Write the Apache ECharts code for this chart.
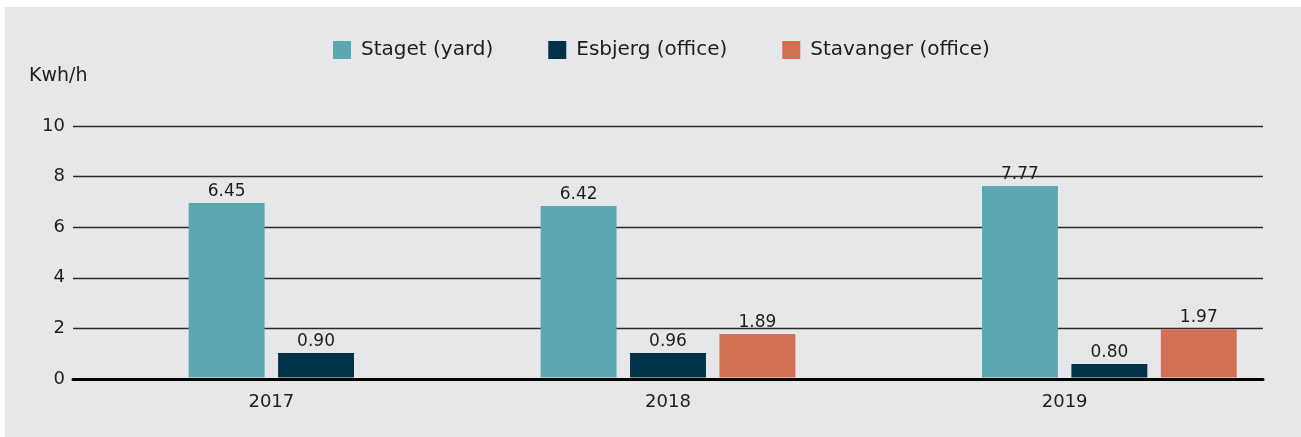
<!DOCTYPE html>
<html>
<head>
<meta charset="utf-8">
<script src="https://cdn.jsdelivr.net/npm/echarts@6/dist/echarts.min.js"></script>
<style>
  html, body { margin: 0; padding: 0; background: #fff; overflow: hidden; }
  #chart { position: absolute; left: 5px; top: 7px; width: 1296px; height: 440px; background: #e6e7e8; }
</style>
</head>
<body>
<div id="chart"></div>
<script>
var years = ['2017', '2018', '2019'];
// bar heights as drawn in the picture (kWh/h)
var stagetValues = [6.96, 6.84, 7.63];
var esbjergValues = [1.03, 1.03, 0.59];
var stavangerValues = [null, 1.78, 1.97];
// value labels printed above the bars
var stagetLabels = ['6.45', '6.42', '7.77'];
var esbjergLabels = ['0.90', '0.96', '0.80'];
var stavangerLabels = [null, '1.89', '1.97'];

var font = 'DejaVu Sans';
var textColor = '#1d1d1b';
var allValues = [stagetValues, esbjergValues, stavangerValues];
var allLabels = [stagetLabels, esbjergLabels, stavangerLabels];
// group shift per year, in bar steps (2019 group sits right of centre)
var groupShift = [0, 0, 0.5];

function makeData(values) {
  var out = [];
  for (var i = 0; i < values.length; i++) {
    if (values[i] == null) continue;
    out.push([i, values[i]]);
  }
  return out;
}

function renderBar(params, api) {
  var cat = api.value(0);
  var val = api.value(1);
  var band = api.size([1, 0])[0];
  var step = band * 0.2254;
  var barW = band * 0.1914;
  // slot of this series among non-empty bars of the year
  var n = 0, slot = 0;
  for (var s = 0; s < allValues.length; s++) {
    if (allValues[s][cat] == null) continue;
    if (s === params.seriesIndex) slot = n;
    n++;
  }
  var offset = (slot - (n - 1) / 2 + groupShift[cat]) * step;
  var base = api.coord([cat, 0]);
  var top = api.coord([cat, val]);
  var cx = base[0] + offset;
  return {
    type: 'group',
    children: [{
      type: 'rect',
      shape: { x: cx - barW / 2, y: top[1], width: barW, height: base[1] - top[1] - 1.5 },
      style: { fill: api.visual('color') }
    }, {
      type: 'text',
      style: {
        text: allLabels[params.seriesIndex][cat], x: cx, y: top[1] - 3,
        align: 'center', verticalAlign: 'bottom',
        fontSize: 17, fontFamily: font, fill: textColor
      }
    }]
  };
}

var myChart = echarts.init(document.getElementById('chart'));
var option = {
  animation: false,
  textStyle: { fontFamily: font, color: textColor },
  title: {
    text: 'Kwh/h', left: 19, top: 55,
    textStyle: { fontSize: 19, fontWeight: 'normal', fontFamily: font, color: textColor }
  },
  legend: {
    left: 323, top: 28,
    itemWidth: 18, itemHeight: 18, itemGap: 55,
    icon: 'rect',
    textStyle: { fontSize: 20, fontFamily: font, color: textColor, padding: [0, 0, 0, 5] },
    data: ['Staget (yard)', 'Esbjerg (office)', 'Stavanger (office)']
  },
  grid: { left: 68, right: 38, top: 119, bottom: 68 },
  xAxis: {
    type: 'category',
    data: years,
    axisTick: { show: false },
    axisLine: { lineStyle: { color: '#000', width: 3 } },
    axisLabel: { fontSize: 18, margin: 14, color: textColor, fontFamily: font }
  },
  yAxis: {
    type: 'value',
    min: 0, max: 10, interval: 2,
    axisLine: { show: false },
    axisTick: { show: false },
    axisLabel: { fontSize: 18, margin: 8, color: textColor, fontFamily: font },
    splitLine: { lineStyle: { color: '#2a2a2a', width: 1.3 } }
  },
  series: [{
    name: 'Staget (yard)', type: 'custom', renderItem: renderBar,
    itemStyle: { color: '#5ba8b3' },
    encode: { x: 0, y: 1 },
    data: makeData(stagetValues)
  }, {
    name: 'Esbjerg (office)', type: 'custom', renderItem: renderBar,
    itemStyle: { color: '#003349' },
    encode: { x: 0, y: 1 },
    data: makeData(esbjergValues)
  }, {
    name: 'Stavanger (office)', type: 'custom', renderItem: renderBar,
    itemStyle: { color: '#d37053' },
    encode: { x: 0, y: 1 },
    data: makeData(stavangerValues)
  }]
};
myChart.setOption(option);
</script>
</body>
</html>
